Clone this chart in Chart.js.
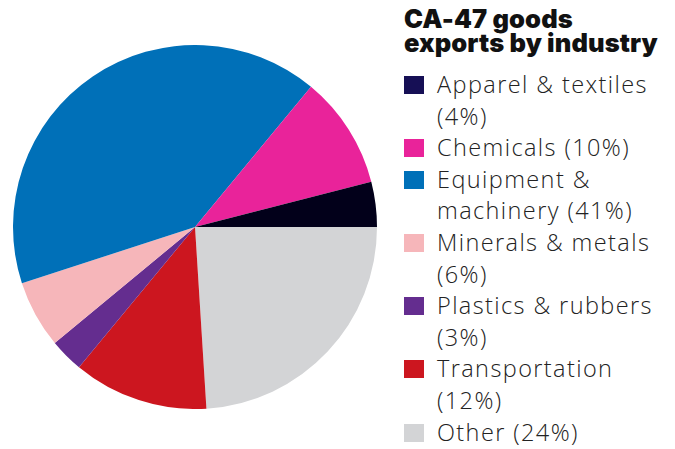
<!DOCTYPE html>
<html>
<head>
<meta charset="utf-8">
<script src="https://cdn.jsdelivr.net/npm/chart.js@4.4.0/dist/chart.umd.min.js"></script>
<style>
    html, body { margin: 0; padding: 0; background: #fff; }
    body { width: 675px; height: 449px; position: relative; overflow: hidden; font-family: "Open Sans", sans-serif; }
    #pieBox { position: absolute; left: 13px; top: 45px; width: 364px; height: 364px; }
    #title { position: absolute; left: 404px; top: 7px; margin: 0; font-family: Inter, sans-serif; font-weight: 900; font-size: 25.5px; line-height: 24px; color: #111; letter-spacing: 0.1px; }
    #legend { position: absolute; left: 404px; top: 69px; margin: 0; padding: 0; list-style: none; width: 270px; }
    #legend li { position: relative; padding-left: 33px; font-size: 23.5px; line-height: 31.6px; color: #222; font-weight: 300; white-space: nowrap; letter-spacing: 1.4px; }
    #legend li span.box { position: absolute; left: 0; top: 7px; width: 20px; height: 18px; }
</style>
</head>
<body>
<div id="pieBox"><canvas id="exportsPie"></canvas></div>
<h2 id="title">CA-47 goods<br>exports by industry</h2>
<ul id="legend"></ul>
<script>
// data, in legend order
const industries = ['Apparel & textiles', 'Chemicals', 'Equipment & machinery', 'Minerals & metals', 'Plastics & rubbers', 'Transportation', 'Other'];
const shares = [4, 10, 41, 6, 3, 12, 24];
const sliceColors = ['#02001a', '#e9239a', '#0070b8', '#f6b6ba', '#642d8f', '#cc161f', '#d3d4d6'];
const boxColors = ['#160f55', '#e9239a', '#0070b8', '#f6b6ba', '#642d8f', '#cc161f', '#d3d4d6'];

// legend (line breaks where the reference breaks)
const legendLines = [
    'Apparel &amp; textiles<br>(4%)',
    'Chemicals (10%)',
    'Equipment &amp;<br>machinery (41%)',
    'Minerals &amp; metals<br>(6%)',
    'Plastics &amp; rubbers<br>(3%)',
    'Transportation<br>(12%)',
    'Other (24%)'
];
const legend = document.getElementById('legend');
industries.forEach(function(name, i) {
    const li = document.createElement('li');
    li.innerHTML = '<span class="box" style="background:' + boxColors[i] + '"></span>' + legendLines[i];
    legend.appendChild(li);
});

// slices run anticlockwise from 3 o'clock, so feed the pie reversed
const ctx = document.getElementById('exportsPie').getContext('2d');
new Chart(ctx, {
    type: 'pie',
    data: {
        labels: industries.slice().reverse(),
        datasets: [{
            data: shares.slice().reverse(),
            backgroundColor: sliceColors.slice().reverse(),
            borderWidth: 0,
            hoverOffset: 0
        }]
    },
    options: {
        responsive: true,
        maintainAspectRatio: false,
        animation: false,
        rotation: 90,
        layout: { padding: 0 },
        plugins: {
            legend: { display: false },
            tooltip: { enabled: false }
        }
    }
});
</script>
</body>
</html>
